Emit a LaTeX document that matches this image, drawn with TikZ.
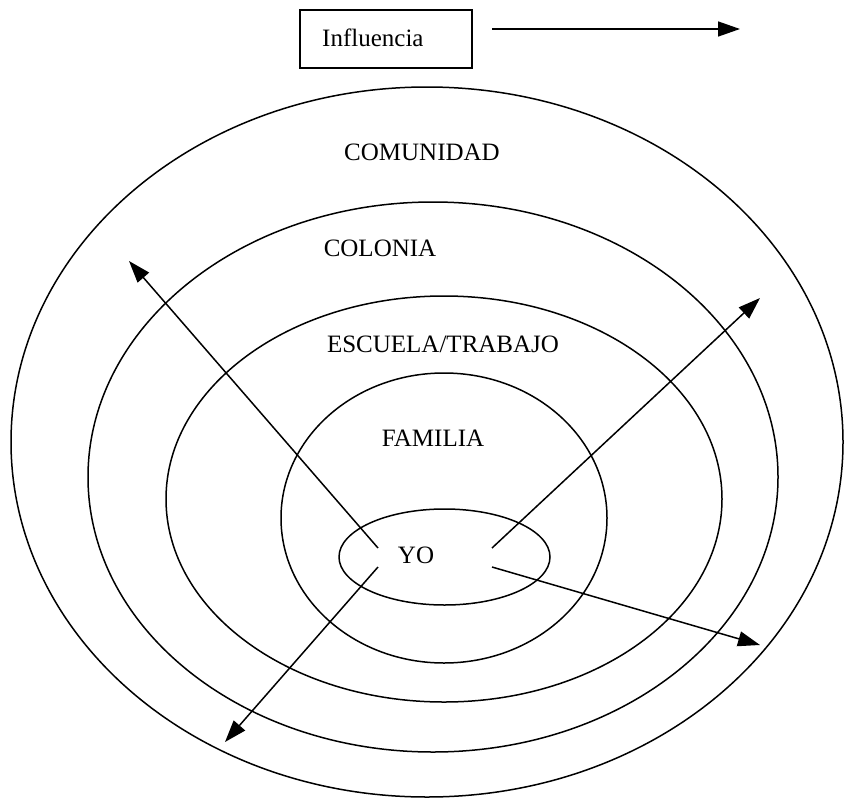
\documentclass[tikz,border=0pt]{standalone}
\usepackage{fontspec}
\setmainfont{Liberation Serif}
\usetikzlibrary{shapes.geometric,arrows.meta}
\begin{document}
\begin{tikzpicture}[x=1pt,y=-1pt,
  ring/.style={draw,ellipse,line width=1.5pt,inner sep=0pt},
  lbl/.style={inner sep=0pt,anchor=base,font=\fontsize{25}{30}\selectfont},
  arr/.style={line width=1.5pt,-{Triangle[length=22pt,width=15pt]}}]
\useasboundingbox (0,0) rectangle (845,800);

% concentric spheres of influence
\node[ring,minimum width=832pt,minimum height=710pt] (comunidad) at (427,442) {};
\node[ring,minimum width=690pt,minimum height=550pt] (colonia) at (433,477) {};
\node[ring,minimum width=556pt,minimum height=406pt] (escuela) at (444,499) {};
\node[ring,minimum width=326pt,minimum height=290pt] (familia) at (444,518) {};
\node[ring,minimum width=211pt,minimum height=96pt] (yo) at (444.5,557) {};

% ring labels
\node[lbl] (tcomunidad) at (422,160) {COMUNIDAD};
\node[lbl] (tcolonia) at (380,256) {COLONIA};
\node[lbl] (tescuela) at (443,352) {ESCUELA/TRABAJO};
\node[lbl] (tfamilia) at (433,446) {FAMILIA};
\node[lbl] (tyo) at (416,563) {YO};

% legend
\node[draw,line width=1.3pt,minimum width=172pt,minimum height=58pt] (box) at (386,39) {};
\node[lbl,anchor=base west] (tinf) at (322,46) {Influencia};
\coordinate (ls) at (492,29);
\coordinate (le) at (740,29);
\draw[arr] (ls) -- (le);

% influence arrows leaving YO
\coordinate (ul0) at (378,548);
\coordinate (ul1) at (129,261);
\coordinate (ur0) at (492,548);
\coordinate (ur1) at (760,298);
\coordinate (dl0) at (378,567);
\coordinate (dl1) at (225,742);
\coordinate (dr0) at (492,567);
\coordinate (dr1) at (760,645);
\draw[arr] (ul0) -- (ul1);
\draw[arr] (ur0) -- (ur1);
\draw[arr] (dl0) -- (dl1);
\draw[arr] (dr0) -- (dr1);
\end{tikzpicture}
\end{document}
